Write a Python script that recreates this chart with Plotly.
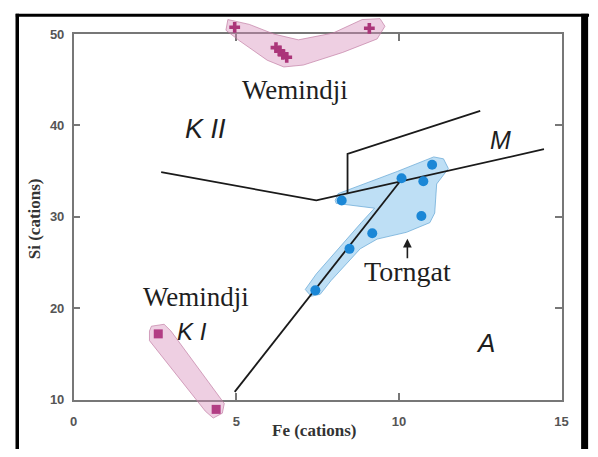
import plotly.graph_objects as go

W, H = 598, 457
# plot frame (pixels) of the Fe/Si axes
PX_L, PX_R, PY_T, PY_B = 71, 568, 28, 406

fe_range = [0, 15]
si_range = [10, 50]
fe_ticks = [0, 5, 10, 15]
si_ticks = [10, 20, 30, 40, 50]

# Torngat analyses
torngat_fe = [8.24, 10.08, 10.75, 11.02, 10.69, 9.18, 8.48, 7.43]
torngat_si = [31.8, 34.23, 33.9, 35.7, 30.1, 28.2, 26.5, 21.96]

# Wemindji K II (crosses) and K I (squares)
wem2_fe = [4.95, 6.22, 6.34, 6.43, 6.55, 9.09]
wem2_si = [50.74, 48.52, 48.15, 47.78, 47.46, 50.63]
wem1_fe = [2.60, 4.38]
wem1_si = [17.2, 8.94]

# field envelopes
env_wem2_fe = [4.74, 5.40, 6.16, 6.91, 7.97, 8.87, 9.42, 9.57, 9.33, 8.27, 7.06, 6.46, 5.95, 5.10, 4.68]
env_wem2_si = [51.59, 51.06, 50.0, 49.37, 50.11, 51.59, 51.69, 50.85, 49.47, 47.99, 46.61, 46.40, 47.14, 49.26, 50.42]
env_wem1_fe = [2.39, 2.78, 2.99, 4.63, 4.57, 4.29, 4.05, 2.33, 2.33]
env_wem1_si = [18.04, 18.25, 17.51, 9.58, 8.52, 7.99, 8.73, 16.46, 17.51]
env_tor_fe = [8.04, 8.13, 9.95, 11.07, 11.37, 11.52, 11.16, 11.10, 10.95, 10.23, 9.33, 8.81,
              7.91, 7.58, 7.30, 7.12, 7.46, 8.15, 8.85, 9.25, 8.44, 8.07]
env_tor_si = [31.80, 32.54, 34.97, 36.56, 36.35, 35.29, 33.60, 30.42, 29.37, 28.31, 27.57, 26.51,
              23.02, 21.53, 21.32, 22.06, 23.76, 26.6, 29.4, 30.95, 31.27, 31.48]

# field boundaries
bound_kii_fe = [2.69, 7.46, 14.46]
bound_kii_si = [34.9, 31.8, 37.4]
bound_m_fe = [8.42, 8.42, 12.50]
bound_m_si = [32.5, 36.9, 41.6]
bound_a_fe = [4.95, 10.11]
bound_a_si = [10.85, 34.23]

# domain of the framed axes, and a full-canvas overlay with the same scale
xd = [PX_L / W, PX_R / W]
yd = [1 - PY_B / H, 1 - PY_T / H]


def full_range(r, d):
    span = (r[1] - r[0]) / (d[1] - d[0])
    return [r[0] - d[0] * span, r[1] + (1 - d[1]) * span]


fig = go.Figure()

# keeps the framed subplot alive
fig.add_trace(go.Scatter(x=[None], y=[None], xaxis="x", yaxis="y",
                         showlegend=False, hoverinfo="skip"))

pink_fill = "rgba(214,140,185,0.42)"
pink_line = "rgba(190,120,160,0.65)"
blue_fill = "rgba(125,192,236,0.5)"
blue_line = "rgba(105,170,215,0.75)"

for fx, fy, fc, lc in [(env_wem2_fe, env_wem2_si, pink_fill, pink_line),
                       (env_wem1_fe, env_wem1_si, pink_fill, pink_line),
                       (env_tor_fe, env_tor_si, blue_fill, blue_line)]:
    fig.add_trace(go.Scatter(x=fx + fx[:1], y=fy + fy[:1], mode="lines", fill="toself",
                             fillcolor=fc, line=dict(color=lc, width=1),
                             xaxis="x2", yaxis="y2", showlegend=False, hoverinfo="skip"))

for bx, by in [(bound_kii_fe, bound_kii_si), (bound_m_fe, bound_m_si), (bound_a_fe, bound_a_si)]:
    fig.add_trace(go.Scatter(x=bx, y=by, mode="lines", line=dict(color="#1a1a1a", width=1.8),
                             xaxis="x2", yaxis="y2", showlegend=False, hoverinfo="skip"))

fig.add_trace(go.Scatter(x=torngat_fe, y=torngat_si, mode="markers",
                         marker=dict(symbol="circle", size=10, color="#1b87d6"),
                         xaxis="x2", yaxis="y2", showlegend=False))
fig.add_trace(go.Scatter(x=wem2_fe, y=wem2_si, mode="markers",
                         marker=dict(symbol="cross", size=9, color="#ab3579"),
                         xaxis="x2", yaxis="y2", showlegend=False))
fig.add_trace(go.Scatter(x=wem1_fe, y=wem1_si, mode="markers",
                         marker=dict(symbol="square", size=9, color="#b23d84"),
                         xaxis="x2", yaxis="y2", showlegend=False))

serif = "Liberation Serif"
sans = "Liberation Sans"
labels = [
    ("Wemindji", 6.79, 43.86, serif, 27, False),
    ("K II", 4.04, 39.63, sans, 27, True),
    ("M", 13.13, 38.36, sans, 25, True),
    ("Wemindji", 3.77, 21.22, serif, 27, False),
    ("K I", 3.65, 17.5, sans, 24, True),
    ("Torngat", 10.25, 24.07, serif, 28, False),
    ("A", 12.65, 16.24, sans, 26, True),
]
annotations = []
for txt, ax_, ay_, fam, sz, it in labels:
    annotations.append(dict(text=f"<i>{txt}</i>" if it else txt, x=ax_, y=ay_, xref="x", yref="y",
                            showarrow=False, xanchor="center", yanchor="middle",
                            font=dict(family=fam, size=sz, color="#1e1e1e")))

# arrow pointing at the Torngat field
annotations.append(dict(x=10.26, y=27.6, ax=10.26, ay=25.3, xref="x", yref="y",
                        axref="x", ayref="y", text="", showarrow=True,
                        arrowhead=2, arrowsize=1.1, arrowwidth=1.6, arrowcolor="#1e1e1e"))

# axis titles
annotations.append(dict(text="Fe (cations)", x=316 / W, y=1 - 438 / H, xref="paper", yref="paper",
                        showarrow=False, xanchor="center", yanchor="middle",
                        font=dict(family=serif, size=17, color="#333", weight="bold")))
annotations.append(dict(text="Si (cations)", x=31 / W, y=1 - 219 / H, xref="paper", yref="paper",
                        showarrow=False, xanchor="center", yanchor="middle", textangle=-90,
                        font=dict(family=serif, size=17, color="#333", weight="bold")))

# black frame around the figure
frame = [
    (13.5 / W, 1 - 7 / H, 13.5 / W, 0.0, 3.5),
    (12 / W, 1 - 8.5 / H, 596 / W, 1 - 8.5 / H, 3),
    (591.5 / W, 1 - 7 / H, 591.5 / W, 0.0, 7),
]
shapes = [dict(type="line", xref="paper", yref="paper", x0=a, y0=b, x1=c, y1=d,
               line=dict(color="black", width=w)) for a, b, c, d, w in frame]

tickfont = dict(family=sans, size=13, color="#555", weight="bold")
axis_common = dict(showgrid=False, zeroline=False, ticks="inside", ticklen=7, tickwidth=1.5,
                   tickcolor="#777", showline=True, linecolor="#777", linewidth=1.5,
                   mirror="ticks", tickfont=tickfont)

fig.update_layout(
    width=W, height=H,
    margin=dict(l=0, r=0, t=0, b=0, pad=0),
    paper_bgcolor="white", plot_bgcolor="rgba(0,0,0,0)",
    xaxis=dict(domain=xd, range=fe_range, tickvals=fe_ticks, anchor="y",
               ticklabelstandoff=9, **axis_common),
    yaxis=dict(domain=yd, range=si_range, tickvals=si_ticks, anchor="x",
               ticklabelstandoff=5, **axis_common),
    xaxis2=dict(domain=[0, 1], range=full_range(fe_range, xd), visible=False, anchor="y2"),
    yaxis2=dict(domain=[0, 1], range=full_range(si_range, yd), visible=False, anchor="x2"),
    annotations=annotations,
    shapes=shapes,
    showlegend=False,
)

fig.write_html("out.html")
